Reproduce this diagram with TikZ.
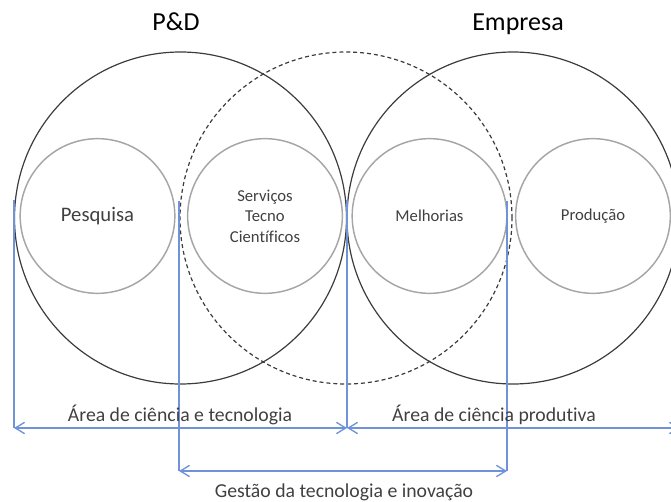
\documentclass[tikz,border=0pt]{standalone}
\usepackage{fontspec}
\setmainfont{Carlito}[Ligatures={NoCommon}]
\usetikzlibrary{arrows.meta}
\definecolor{bigline}{RGB}{60,60,60}
\definecolor{innerline}{RGB}{166,166,166}
\definecolor{dimblue}{RGB}{112,146,216}
\definecolor{txt}{RGB}{64,64,64}
\tikzset{
  bigc/.style={circle, draw=bigline, line width=0.9pt, minimum size=249pt, inner sep=0pt},
  midc/.style={circle, draw=bigline, line width=0.9pt, dash pattern=on 3pt off 2.2pt, minimum size=249pt, inner sep=0pt},
  innerc/.style={circle, draw=innerline, line width=1.1pt, minimum size=116pt, inner sep=0pt, text=txt, align=center, font=\fontsize{12.5}{15.4}\selectfont},
  title/.style={anchor=base, text=black, font=\fontsize{19.5}{23}\selectfont, inner sep=0pt},
  lbl/.style={anchor=base, text=txt, font=\fontsize{14.8}{18}\selectfont, inner sep=0pt},
  guide/.style={draw=dimblue, line width=1pt},
  dim/.style={draw=dimblue, line width=1pt, {Straight Barb[length=7pt,width=8.5pt]}-{Straight Barb[length=7pt,width=8.5pt]}},
}
\begin{document}
\begin{tikzpicture}[x=0.75pt,y=-0.75pt]
\useasboundingbox (0,0) rectangle (671,502);
% big circles
\node[bigc] (pd) at (180.5,218) {};
\node[midc] (mid) at (346,218) {};
\node[bigc] (emp) at (513,218) {};
% inner circles
\node[innerc] (pesq) at (97.5,216) {};
\node[text=txt, font=\fontsize{15.5}{18}\selectfont, inner sep=0pt] (pesqt) at (pesq.center) {Pesquisa};
\node[innerc] (serv) at (265,216) {Serviços\\Tecno\\Científicos};
\node[innerc] (melh) at (429.5,216) {Melhorias};
\node[innerc] (prod) at (593,216) {Produção};
% titles
\node[title] (tpd) at (176,31) {P\&D};
\node[title] (temp) at (518,31) {Empresa};
% guide coordinates
\coordinate (g1t) at (14,200);
\coordinate (g2t) at (179,201);
\coordinate (g3t) at (347,200);
\coordinate (g4t) at (507,201);
\coordinate (a1l) at (14,428);
\coordinate (a1m) at (347,428);
\coordinate (a1r) at (680,428);
\coordinate (a2l) at (179,471);
\coordinate (a2r) at (507,471);
% verticals
\draw[guide] (g1t) -- (a1l);
\draw[guide] (g2t) -- (a2l);
\draw[guide] (g3t) -- (a1m);
\draw[guide] (g4t) -- (a2r);
% dimension arrows
\draw[dim] (a1l) -- (a1m);
\draw[dim] (a1m) -- (a1r);
\draw[dim] (a2l) -- (a2r);
% labels
\node[lbl] (l1) at (180,421) {Área de ciência e tecnologia};
\node[lbl] (l2) at (494,421) {Área de ciência produtiva};
\node[lbl] (l3) at (344,497) {Gestão da tecnologia e inovação};
\end{tikzpicture}
\end{document}
